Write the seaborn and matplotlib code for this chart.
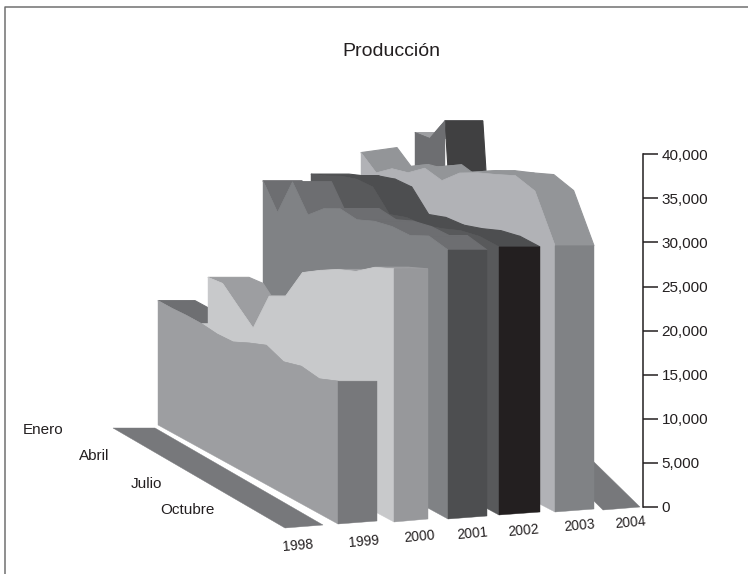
import matplotlib
matplotlib.use("Agg")
import matplotlib.pyplot as plt
import numpy as np
import seaborn as sns

years = ['1998', '1999', '2000', '2001', '2002', '2003', '2004']
month_labels = ['Enero', 'Abril', 'Julio', 'Octubre']
y_ticks = [0, 5000, 10000, 15000, 20000, 25000, 30000, 35000, 40000]

# monthly production, Enero to Diciembre (thousands)
prod_1998 = [0, 0, 0, 0, 0, 0, 0, 0, 0, 0, 0, 0]
prod_1999 = [14.1, 14.1, 14.2, 14.2, 14.0, 14.1, 15.0, 15.8, 15.0, 15.6, 15.3, 16.2]
prod_2000 = [16.4, 16.6, 15.0, 13.4, 18.0, 19.0, 22.7, 24.0, 25.2, 26.1, 27.7, 28.7]
prod_2001 = [26.9, 24.2, 28.6, 25.8, 27.5, 28.5, 28.3, 29.2, 29.7, 29.8, 30.9, 30.5]
prod_2002 = [27.2, 27.9, 28.8, 29.4, 29.5, 27.4, 28.1, 28.3, 29.0, 29.9, 30.4, 30.4]
prod_2003 = [29.3, 27.9, 29.3, 29.8, 31.3, 30.9, 32.8, 33.9, 34.8, 35.8, 35.2, 30.2]
prod_2004 = [21.7, 22.7, 26.4, 0, 0, 0, 0, 0, 0, 0, 0, 0]
series = [prod_1998, prod_1999, prod_2000, prod_2001, prod_2002, prod_2003, prod_2004]

# oblique view of each year, in pixels of the 748x574 canvas
far_x = [113, 158, 208, 263, 311, 361, 415]
near_x = [285, 338, 394, 448, 499, 555, 603]
far_y = [428, 425, 422, 418, 414, 411, 324]
near_y = [528, 524, 522, 519, 515, 512, 510]
far_w = [42, 37, 41, 39, 38, 36, 38]
near_w = [38, 39, 34, 39, 41, 39, 37]
top_rise = [0, 0, 0, 0, 0, 5, 0]

front_col = ['#77787b', '#9d9ea1', '#c8c9cb', '#808285', '#58595b', '#b1b2b6', '#6d6e71']
top_col = ['#77787b', '#6e6f72', '#9d9ea1', '#6d6e71', '#4d4e50', '#939598', '#9d9ea1']
cap_col = ['#77787b', '#77787b', '#97989b', '#4d4e50', '#231f20', '#808285', '#404041']
floor_col = '#77787b'

PX_PER_UNIT = 8.82 / 1000
ZERO_PX = 507


def to_val(y_px):
    return (ZERO_PX - y_px) / PX_PER_UNIT


sns.set_theme(style='white')
plt.rcParams['font.family'] = ['Liberation Sans', 'DejaVu Sans']

fig = plt.figure(figsize=(7.48, 5.74), dpi=100)
ax = fig.add_axes([0, 0, 1, 1])
ax.set_xlim(0, 748)
ax.set_ylim(to_val(574), to_val(0))
ax.patch.set_alpha(0)

t = np.arange(12) / 11
warp = 0.85 * t + 0.15 * t ** 2


def poly(xs, ys, col, z, lw=0.3):
    ax.fill(xs, ys, facecolor=col, edgecolor=col, lw=lw, zorder=z)


def seg_colour(k, vals, m):
    if vals[m] == 0 and vals[m + 1] == 0:
        return floor_col
    if vals[m + 1] == 0:
        return cap_col[k]
    if k == 1 and m >= 3:
        return front_col[2]  # this wall's top takes the colour of the next wall
    return top_col[k]


# back year first, front year last, so nearer walls cover the farther ones
for k in range(6, -1, -1):
    vals = np.array(series[k]) * 1000
    z = 10 + (6 - k) * 3
    x = far_x[k] + (near_x[k] - far_x[k]) * warp
    base = to_val(far_y[k] + (near_y[k] - far_y[k]) * warp)
    top = base + vals
    w = far_w[k] + (near_w[k] - far_w[k]) * warp
    rise = top_rise[k] * (1 - warp) / PX_PER_UNIT
    lift = np.where(vals == 0, 3 * warp / PX_PER_UNIT, rise)

    # flat runs of empty months make one strip, the rest one quad per month
    flat = np.where(vals == 0)[0]
    if len(flat) > 1:
        poly(np.r_[x[flat], (x + w)[flat][::-1]], np.r_[top[flat], (top + lift)[flat][::-1]], floor_col, z)
    for m in range(11):
        if vals[m] == 0 and vals[m + 1] == 0:
            continue
        col = seg_colour(k, vals, m)
        zz = z
        if k == 1 and col == top_col[1]:
            zz = z - 2.5  # the wall behind cuts this dark top off at its left edge
        poly([x[m], x[m + 1], x[m + 1] + w[m + 1], x[m] + w[m]],
             [top[m], top[m + 1], top[m + 1] + lift[m + 1], top[m] + lift[m]], col, zz, lw=0.8)

    if vals.max() > 0:
        keep = np.arange(12) if vals[-1] > 0 else np.arange(3)
        poly(np.r_[x[keep], x[keep][::-1]], np.r_[top[keep], base[keep][::-1]], front_col[k], z + 1)
        sns.lineplot(x=x[keep], y=top[keep], color=front_col[k], lw=0.5, sort=False,
                     estimator=None, ax=ax, zorder=z + 1, legend=False)
    if vals[-1] > 0:
        poly([x[-1], x[-1] + w[-1], x[-1] + w[-1], x[-1]],
             [base[-1], base[-1] + 3 / PX_PER_UNIT, top[-1], top[-1]], cap_col[k], z + 2)

# value axis: the right spine moved in next to the chart
for side in ['top', 'left', 'bottom']:
    ax.spines[side].set_visible(False)
ax.spines['right'].set_position(('data', 643))
ax.spines['right'].set_bounds(0, 40000)
ax.spines['right'].set_color('#231f20')
ax.spines['right'].set_linewidth(1.1)
ax.yaxis.tick_right()
ax.set_yticks(y_ticks)
ax.set_yticklabels([f'{v:,}' for v in y_ticks])
ax.tick_params(axis='y', direction='out', length=10.5, width=1.1, color='#231f20',
               labelsize=11, labelcolor='#231f20', pad=3, right=True)
ax.set_xticks([])
ax.set_xlabel(None)
ax.set_ylabel(None)

# year labels under the walls
year_x = [298, 364, 419, 472, 523, 579, 630]
year_y = [546, 542, 537, 534, 531, 526, 523]
for lab, xp, yp in zip(years, year_x, year_y):
    ax.text(xp, to_val(yp), lab, ha='center', va='center', fontsize=10, rotation=5, color='#231f20')

month_x = [43, 94, 146, 187]
month_y = [430, 456, 484, 510]
for lab, xp, yp in zip(month_labels, month_x, month_y):
    ax.text(xp, to_val(yp), lab, ha='center', va='center', fontsize=11, color='#231f20')

ax.text(391, to_val(51), 'Producción', ha='center', va='center', fontsize=14, color='#231f20')

# frame runs off the page on the right and at the bottom
ax.plot([5.5, 5.5, 748], [to_val(574), to_val(6.5), to_val(6.5)], color='#707070', lw=1.1,
        clip_on=False, zorder=50)

fig.savefig('out.png', dpi=100)
